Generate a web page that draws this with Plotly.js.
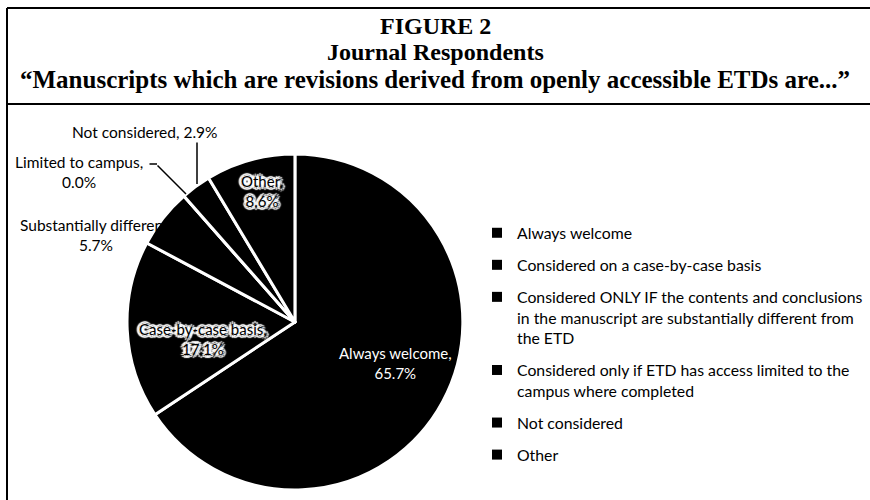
<!DOCTYPE html>
<html>
<head>
<meta charset="utf-8">
<script src="https://cdn.plot.ly/plotly-3.0.1.min.js"></script>
<style>html,body{margin:0;padding:0;background:#fff;}#chart{width:870px;height:500px;}</style>
</head>
<body>
<div id="chart"></div>
<script>
// ---- data ----
var categories = [
  "Always welcome",
  "Considered on a case-by-case basis",
  "Considered ONLY IF the contents and conclusions<br>in the manuscript are substantially different from<br>the ETD",
  "Considered only if ETD has access limited to the<br>campus where completed",
  "Not considered",
  "Other"
];
var shortLabels = ["Always welcome", "Case-by-case basis", "Substantially different", "Limited to campus", "Not considered", "Other"];
var values = [65.7, 17.1, 5.7, 0.0, 2.9, 8.6];
var titleLines = ["FIGURE 2", "Journal Respondents", "\u201cManuscripts which are revisions derived from openly accessible ETDs are...\u201d"];

var FONT = "Lato, 'Open Sans', sans-serif";
var SERIF = "'Liberation Serif', 'DejaVu Serif', serif";
var halo = "#fff 2px 2px 1px, #fff -2px -2px 1px, #fff 2px -2px 1px, #fff -2px 2px 1px, #fff 0px 3px 1px, #fff 0px -3px 1px, #fff 3px 0px 1px, #fff -3px 0px 1px";

var traces = [{
  type: "pie",
  labels: shortLabels,
  values: values,
  sort: false,
  direction: "clockwise",
  rotation: 0,
  showlegend: false,
  textinfo: "none",
  marker: { colors: values.map(function () { return "#000000"; }), line: { color: "#ffffff", width: 3 } },
  hoverinfo: "label+value",
  domain: { x: [0.146, 0.532], y: [0.02, 0.692] }
}];

// legend entries (one group each so the library spaces them like the original)
categories.forEach(function (c, i) {
  traces.push({
    type: "scatter", mode: "markers", x: [null], y: [null],
    name: c, legendgroup: "g" + i, showlegend: true,
    marker: { symbol: "square", size: 10, color: "#000000" },
    hoverinfo: "skip"
  });
});

function pct(v) { return v.toFixed(1) + "%"; }
function lbl(i, br) { return shortLabels[i] + (br ? ",<br>" : ", ") + pct(values[i]); }

var annotations = [
  { text: "<b>" + titleLines[0] + "</b>", x: 0.5, y: 1 - 26 / 500, font: { family: SERIF, size: 24, color: "#000" } },
  { text: "<b>" + titleLines[1] + "</b>", x: 0.5, y: 1 - 52 / 500, font: { family: SERIF, size: 24, color: "#000" } },
  { text: "<b>" + titleLines[2] + "</b>", x: 0.5, y: 1 - 79 / 500, font: { family: SERIF, size: 25, color: "#000" } },
  // slice labels
  { text: lbl(0, true), x: 395 / 870, y: 1 - 363 / 500, font: { family: FONT, size: 15, color: "#fff" } },
  { text: lbl(1, true), x: 203 / 870, y: 1 - 339 / 500, font: { family: FONT, size: 15, color: "#000", shadow: halo } },
  { text: lbl(5, true), x: 262 / 870, y: 1 - 191 / 500, font: { family: FONT, size: 15, color: "#000", shadow: halo } },
  { text: lbl(4, false), x: 145 / 870, y: 1 - 132 / 500, font: { family: FONT, size: 15.5, color: "#000" } },
  { text: lbl(3, true), x: 79 / 870, y: 1 - 172 / 500, font: { family: FONT, size: 15.5, color: "#000" } },
  { text: lbl(2, true), x: 96 / 870, y: 1 - 235 / 500, font: { family: FONT, size: 15.5, color: "#000" } },
  // leader lines
  { text: "", x: 197 / 870, y: 1 - 184 / 500, ax: 0, ay: -43, showarrow: true, arrowhead: 0, arrowwidth: 1.5, arrowcolor: "#000" },
  { text: "", x: 157 / 870, y: 1 - 164 / 500, ax: -9, ay: 0, showarrow: true, arrowhead: 0, arrowwidth: 1.5, arrowcolor: "#000" },
  { text: "", x: 186 / 870, y: 1 - 194 / 500, ax: -30, ay: -30, showarrow: true, arrowhead: 0, arrowwidth: 1.5, arrowcolor: "#000" }
];
annotations.forEach(function (a) {
  a.xref = "paper"; a.yref = "paper";
  if (a.showarrow === undefined) a.showarrow = false;
  if (a.showarrow) { a.axref = "pixel"; a.ayref = "pixel"; }
  a.xanchor = "center"; a.yanchor = "middle";
});

var shapes = [
  { type: "line", x0: 7 / 870, x1: 1, y0: 1 - 8 / 500, y1: 1 - 8 / 500 },
  { type: "line", x0: 7 / 870, x1: 1, y0: 1 - 104 / 500, y1: 1 - 104 / 500 },
  { type: "line", x0: 7 / 870, x1: 7 / 870, y0: 1 - 8 / 500, y1: 0 }
].map(function (s) { s.xref = "paper"; s.yref = "paper"; s.line = { color: "#000", width: 2 }; return s; });

var layout = {
  width: 870, height: 500,
  margin: { l: 0, r: 0, t: 0, b: 0 },
  paper_bgcolor: "#ffffff", plot_bgcolor: "#ffffff",
  xaxis: { visible: false }, yaxis: { visible: false },
  showlegend: true,
  legend: {
    x: 477 / 870, y: 1 - 216 / 500, xanchor: "left", yanchor: "top",
    font: { family: FONT, size: 15.8, color: "#000" },
    valign: "top", tracegroupgap: 8.5, bgcolor: "rgba(0,0,0,0)", borderwidth: 0
  },
  annotations: annotations,
  shapes: shapes
};

Plotly.newPlot("chart", traces, layout, { displayModeBar: false, staticPlot: true });
</script>
</body>
</html>
